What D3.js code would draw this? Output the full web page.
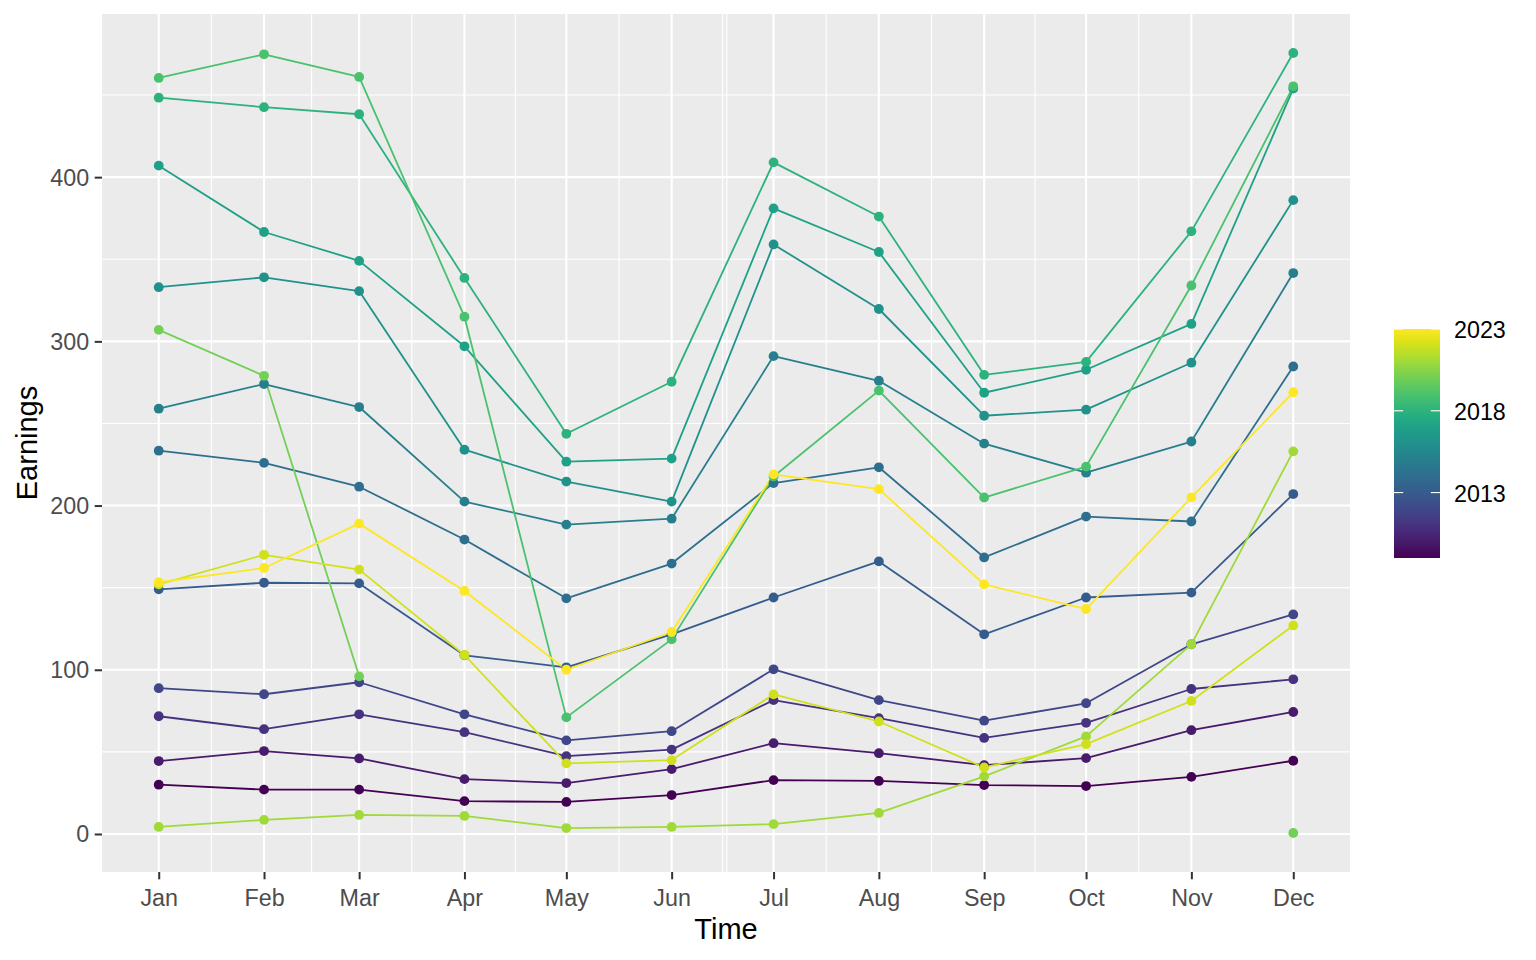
<!DOCTYPE html>
<html>
<head>
<meta charset="utf-8">
<script src="https://cdn.jsdelivr.net/npm/d3@7"></script>
<style>
  body { margin: 0; background: #ffffff; }
  svg { display: block; }
  text { font-family: "Liberation Sans", Arial, Helvetica, sans-serif; }
</style>
</head>
<body>
<svg id="chart" width="1536" height="960"></svg>
<script>
// ---------------- DATA ----------------
const monthLabels = ["Jan","Feb","Mar","Apr","May","Jun","Jul","Aug","Sep","Oct","Nov","Dec"];
const years = [2009,2010,2011,2012,2013,2014,2015,2016,2017,2018,2019,2020,2021,2022,2023];

const earnings2009 = [30, 27, 27, 20, 19.5, 23.7, 32.8, 32.3, 29.8, 29.2, 34.8, 44.6];
const earnings2010 = [44.4, 50.5, 46, 33.4, 31, 39.5, 55.3, 49.2, 41.9, 46.2, 63.2, 74.3];
const earnings2011 = [71.7, 63.8, 72.9, 62, 47.4, 51.4, 81.5, 70.5, 58.5, 67.7, 88.3, 94.2];
const earnings2012 = [88.8, 85.1, 92.4, 72.9, 57, 62.6, 100.3, 81.5, 69, 79.6, 115.5, 133.7];
const earnings2013 = [149, 153, 152.6, 108.8, 101.5, 121.6, 144, 166, 121.6, 144, 147, 207];
const earnings2014 = [233.4, 226, 211.5, 179.3, 143.5, 164.7, 213.7, 223.3, 168.4, 193.3, 190.3, 284.7];
const earnings2015 = [259, 274, 260, 202.4, 188.4, 192, 291, 276, 237.7, 220, 239, 341.6];
const earnings2016 = [333, 339, 330.6, 234, 214.6, 202.4, 359, 319.7, 254.7, 258.4, 287, 386];
const earnings2017 = [407, 366.6, 349, 297, 226.7, 228.6, 381, 354.4, 268.7, 282.7, 310.6, 453.9];
const earnings2018 = [448.4, 442.6, 438.3, 338.6, 243.7, 275.4, 409, 376, 279.6, 287.5, 367, 475.6];
const earnings2019 = [460.4, 474.8, 461, 315, 71, 118.5, 217.7, 270, 204.9, 223.7, 334, 455.3];
const earnings2020 = [307, 279, 96, null, null, null, null, null, null, null, null, 0.6];
const earnings2021 = [4.3, 8.6, 11.6, 11, 3.6, 4.3, 6, 12.8, 35.1, 59.4, 115.5, 233];
const earnings2022 = [152, 170, 161, 109, 43, 45, 85, 68.5, 40.5, 54.7, 81, 127];
const earnings2023 = [153.3, 162, 189, 148, 100, 123, 219, 210, 152, 137, 205, 269];

const yTicks = [0, 100, 200, 300, 400];
const yMinorTicks = [50, 150, 250, 350, 450];
const legendTicks = [2013, 2018, 2023];
// minor vertical grid positions (as dates within the year), as seen in the reference
const xMinorBreaks = ["01-16T12","02-15","03-16T12","04-16","05-16T12","06-16","06-17T06","07-16T12","08-16T12","09-16","10-16T12"];

const earningsByYear = [earnings2009, earnings2010, earnings2011, earnings2012, earnings2013,
  earnings2014, earnings2015, earnings2016, earnings2017, earnings2018, earnings2019,
  earnings2020, earnings2021, earnings2022, earnings2023];

// ---------------- BUILD TABLE ----------------
const baseYear = 2023;
const monthDates = monthLabels.map((m, i) => new Date(Date.UTC(baseYear, i, 1)));
const series = years.map((yr, k) => ({
  year: yr,
  values: earningsByYear[k].map((v, i) => ({ date: monthDates[i], v: v, year: yr }))
}));
const allPts = series.flatMap(s => s.values).filter(d => d.v != null);

// ---------------- LAYOUT ----------------
const svg = d3.select("#chart");
const panel = { left: 102, right: 1350, top: 14, bottom: 872 };

const xMin = monthDates[0].getTime(), xMax = monthDates[11].getTime();
const xPad = (xMax - xMin) * 0.05;
const x = d3.scaleUtc()
  .domain([new Date(xMin - xPad), new Date(xMax + xPad)])
  .range([panel.left, panel.right]);

const [vMin, vMax] = d3.extent(allPts, d => d.v);
const yPad = (vMax - vMin) * 0.05;
const y = d3.scaleLinear()
  .domain([vMin - yPad, vMax + yPad])
  .range([panel.bottom, panel.top]);

const color = d3.scaleSequential(d3.interpolateViridis).domain([2009, 2023]);

// panel background
svg.append("rect")
  .attr("x", panel.left).attr("y", panel.top)
  .attr("width", panel.right - panel.left).attr("height", panel.bottom - panel.top)
  .attr("fill", "#ebebeb");

const grid = svg.append("g");
// minor grid
grid.selectAll("line.ymin").data(yMinorTicks).join("line")
  .attr("x1", panel.left).attr("x2", panel.right)
  .attr("y1", d => y(d)).attr("y2", d => y(d))
  .attr("stroke", "#ffffff").attr("stroke-width", 1.1);
grid.selectAll("line.xmin").data(xMinorBreaks.map(s => new Date(baseYear + "-" + s + (s.includes("T") ? "" : "T00") + ":00:00Z"))).join("line")
  .attr("y1", panel.top).attr("y2", panel.bottom)
  .attr("x1", d => x(d)).attr("x2", d => x(d))
  .attr("stroke", "#ffffff").attr("stroke-width", 1.1);
// major grid
grid.selectAll("line.ymaj").data(yTicks).join("line")
  .attr("x1", panel.left).attr("x2", panel.right)
  .attr("y1", d => y(d)).attr("y2", d => y(d))
  .attr("stroke", "#ffffff").attr("stroke-width", 2.1);
grid.selectAll("line.xmaj").data(monthDates).join("line")
  .attr("y1", panel.top).attr("y2", panel.bottom)
  .attr("x1", d => x(d)).attr("x2", d => x(d))
  .attr("stroke", "#ffffff").attr("stroke-width", 2.1);

// ---------------- AXES ----------------
const xAxis = d3.axisBottom(x).tickValues(monthDates)
  .tickFormat((d, i) => monthLabels[i]).tickSize(7.3).tickPadding(5.5);
const gx = svg.append("g").attr("transform", `translate(0,${panel.bottom})`).call(xAxis);
gx.select(".domain").remove();
gx.selectAll(".tick line").attr("stroke", "#333333").attr("stroke-width", 2);
gx.selectAll(".tick text").attr("fill", "#4d4d4d").attr("font-size", 23.3)
  .attr("dy", null).attr("y", 34).attr("dominant-baseline", "alphabetic");

const yAxis = d3.axisLeft(y).tickValues(yTicks).tickSize(7.3).tickPadding(5.5);
const gy = svg.append("g").attr("transform", `translate(${panel.left},0)`).call(yAxis);
gy.select(".domain").remove();
gy.selectAll(".tick line").attr("stroke", "#333333").attr("stroke-width", 2);
gy.selectAll(".tick text").attr("fill", "#4d4d4d").attr("font-size", 23.3)
  .attr("dy", null).attr("dominant-baseline", "central");

// axis titles
svg.append("text").attr("x", (panel.left + panel.right) / 2).attr("y", 939)
  .attr("text-anchor", "middle").attr("font-size", 29).attr("fill", "#000")
  .text("Time");
svg.append("text")
  .attr("transform", `translate(37,${(panel.top + panel.bottom) / 2}) rotate(-90)`)
  .attr("text-anchor", "middle").attr("font-size", 29).attr("fill", "#000")
  .text("Earnings");

// ---------------- MARKS ----------------
const line = d3.line()
  .defined(d => d.v != null)
  .x(d => x(d.date)).y(d => y(d.v));

const plot = svg.append("g");
plot.selectAll("path.series").data(series).join("path")
  .attr("class", "series")
  .attr("d", s => line(s.values))
  .attr("fill", "none")
  .attr("stroke", s => color(s.year))
  .attr("stroke-width", 1.8)
  .attr("stroke-linejoin", "round");

series.forEach(s => {
  plot.append("g").selectAll("circle")
    .data(s.values.filter(d => d.v != null)).join("circle")
    .attr("cx", d => x(d.date)).attr("cy", d => y(d.v))
    .attr("r", 4.9).attr("fill", color(s.year));
});

// ---------------- LEGEND (colorbar) ----------------
const lg = { x: 1394, y: 329, w: 46, h: 229 };
const lscale = d3.scaleLinear().domain([2009, 2023]).range([lg.y + lg.h, lg.y]);
const defs = svg.append("defs");
const grad = defs.append("linearGradient").attr("id", "cbar")
  .attr("x1", 0).attr("x2", 0).attr("y1", 1).attr("y2", 0);
d3.range(0, 1.0001, 0.05).forEach(t => {
  grad.append("stop").attr("offset", t).attr("stop-color", color(2009 + t * 14));
});
svg.append("rect").attr("x", lg.x).attr("y", lg.y).attr("width", lg.w).attr("height", lg.h)
  .attr("fill", "url(#cbar)");
const lt = svg.append("g");
legendTicks.forEach(v => {
  const yy = lscale(v);
  lt.append("line").attr("x1", lg.x).attr("x2", lg.x + lg.w / 5).attr("y1", yy).attr("y2", yy)
    .attr("stroke", "#ffffff").attr("stroke-width", 1.1);
  lt.append("line").attr("x1", lg.x + lg.w - lg.w / 5).attr("x2", lg.x + lg.w).attr("y1", yy).attr("y2", yy)
    .attr("stroke", "#ffffff").attr("stroke-width", 1.1);
  lt.append("text").attr("x", lg.x + lg.w + 14).attr("y", yy + 1)
    .attr("dominant-baseline", "central").attr("font-size", 23.3).attr("fill", "#000")
    .text(v);
});
</script>
</body>
</html>
